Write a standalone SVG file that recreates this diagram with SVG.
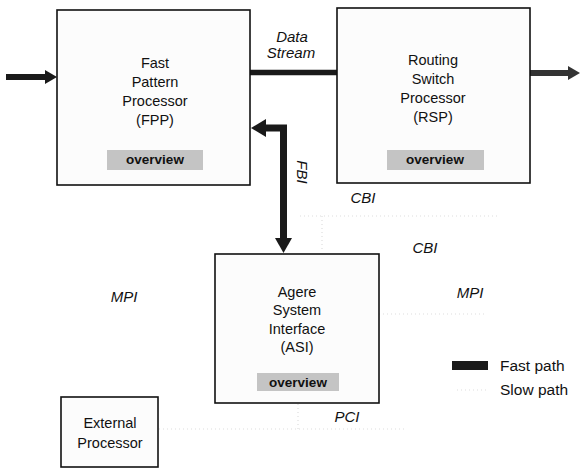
<svg xmlns="http://www.w3.org/2000/svg" width="581" height="469" viewBox="0 0 581 469">
<defs>
<style>
text{font-family:"Liberation Sans",Arial,sans-serif;fill:#111}
.box{fill:#fcfcfc;stroke:#111;stroke-width:1.6}
.ov{fill:#c4c4c4;stroke:none}
.lbl{font-size:14.5px;text-anchor:middle}
.ovt{font-size:13.5px;font-weight:bold;text-anchor:middle}
.it{font-size:15px;font-style:italic;text-anchor:middle}
.fast{fill:none;stroke:#1a1a1a;stroke-linecap:butt}
.head{fill:#1a1a1a}
.slow{fill:none;stroke:#dedede;stroke-width:1.2;stroke-dasharray:1 3}
.leg{font-size:15.5px}
</style>
</defs>
<rect width="581" height="469" fill="#fff"/>
<g id="connectors">
<line class="slow" x1="300" y1="216" x2="500" y2="216"/>
<line class="slow" x1="322" y1="216" x2="322" y2="252"/>
<line class="slow" x1="379" y1="314" x2="485" y2="314"/>
<line class="slow" x1="298" y1="404" x2="298" y2="429"/>
<line class="slow" x1="159" y1="429" x2="405" y2="429"/>
<line class="fast" x1="6" y1="77" x2="47" y2="77" stroke-width="6"/>
<polygon class="head" points="45,70 57,77 45,84"/>
<line class="fast" x1="250" y1="72.5" x2="337" y2="72.5" stroke-width="5.5"/>
<line class="fast" x1="530" y1="73" x2="570" y2="73" stroke-width="6" style="stroke:#333"/>
<polygon class="head" points="568,66 580,73 568,80" style="fill:#333"/>
<path class="fast" d="M264,128 H283.5 V240" stroke-width="7"/>
<polygon class="head" points="251,128 266,119 266,137"/>
<polygon class="head" points="275,238 292,238 283.5,253"/>
<text class="it" x="292" y="42">Data</text>
<text class="it" x="291" y="58">Stream</text>
<text class="it" transform="translate(297,172) rotate(90)" x="0" y="0">FBI</text>
<text class="it" x="363" y="203">CBI</text>
<text class="it" x="425" y="253">CBI</text>
<text class="it" x="470" y="298">MPI</text>
<text class="it" x="124" y="302">MPI</text>
<text class="it" x="347" y="422">PCI</text>
</g>
<g id="fpp">
<rect class="box" x="57" y="10" width="193" height="175"/>
<text class="lbl" x="155" y="68">Fast</text>
<text class="lbl" x="155" y="87">Pattern</text>
<text class="lbl" x="155" y="106">Processor</text>
<text class="lbl" x="155" y="125">(FPP)</text>
<rect class="ov" x="107" y="150" width="96" height="20"/>
<text class="ovt" x="155" y="164">overview</text>
</g>
<g id="rsp">
<rect class="box" x="337" y="8" width="193" height="175"/>
<text class="lbl" x="433" y="65">Routing</text>
<text class="lbl" x="433" y="84">Switch</text>
<text class="lbl" x="433" y="103">Processor</text>
<text class="lbl" x="433" y="122">(RSP)</text>
<rect class="ov" x="387" y="150" width="97" height="20"/>
<text class="ovt" x="435" y="164">overview</text>
</g>
<g id="asi">
<rect class="box" x="215" y="254" width="164" height="149"/>
<text class="lbl" x="297" y="297">Agere</text>
<text class="lbl" x="297" y="315">System</text>
<text class="lbl" x="297" y="334">Interface</text>
<text class="lbl" x="297" y="352">(ASI)</text>
<rect class="ov" x="257" y="373" width="82" height="18"/>
<text class="ovt" x="298" y="387">overview</text>
</g>
<g id="ext">
<rect class="box" x="61" y="397" width="97" height="70"/>
<text class="lbl" x="110" y="428">External</text>
<text class="lbl" x="110" y="448">Processor</text>
</g>
<g id="legend">
<rect x="452" y="361" width="36" height="9" fill="#1a1a1a"/>
<text class="leg" x="500" y="371">Fast path</text>
<line class="slow" x1="457" y1="390" x2="488" y2="390"/>
<text class="leg" x="500" y="395">Slow path</text>
</g>
</svg>
